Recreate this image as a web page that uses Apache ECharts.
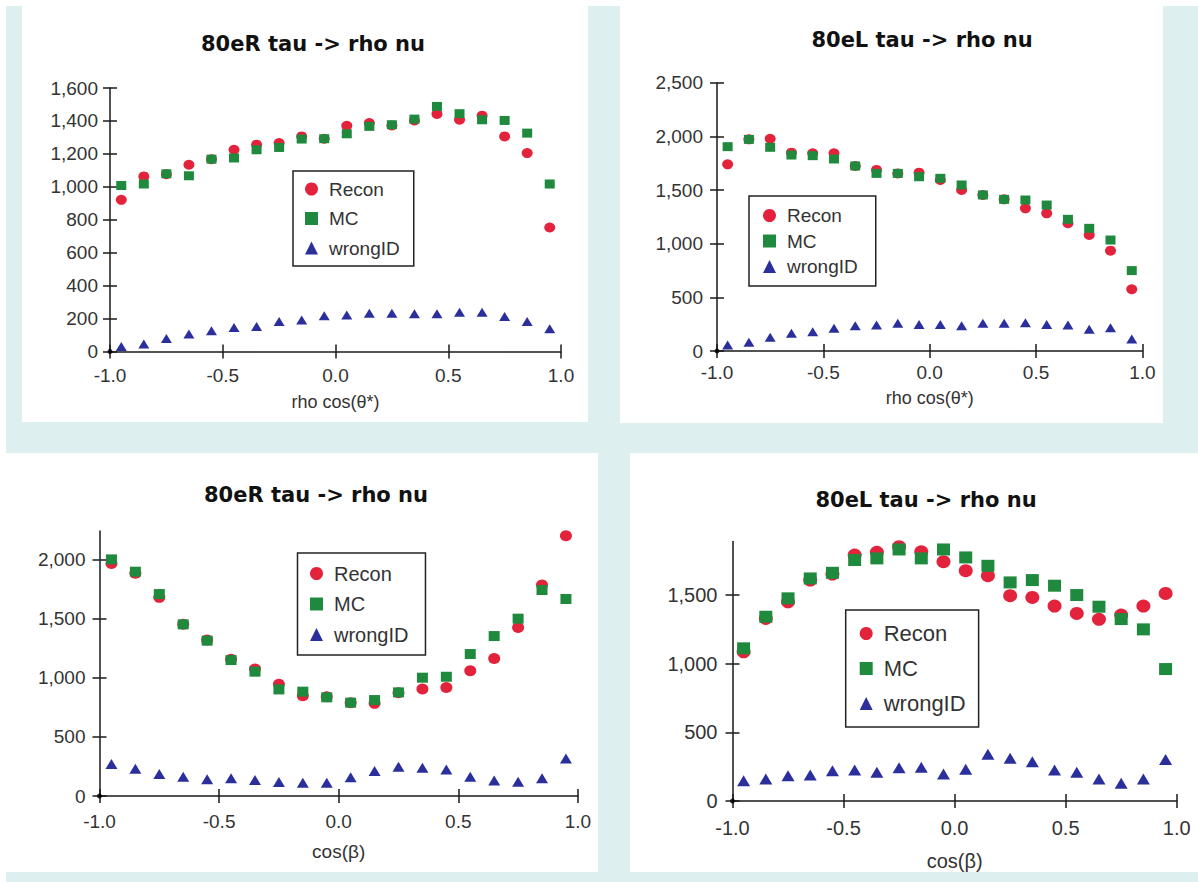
<!DOCTYPE html>
<html>
<head>
<meta charset="utf-8">
<script src="https://cdn.jsdelivr.net/npm/echarts@6/dist/echarts.min.js"></script>
<style>
html,body{margin:0;padding:0;background:#ffffff;}
#c{width:1198px;height:882px;}
</style>
</head>
<body>
<div id="c"></div>
<script>
// ---------- data ----------
const seriesNames = ['Recon', 'MC', 'wrongID'];
const titles = ['80eR tau -> rho nu', '80eL tau -> rho nu', '80eR tau -> rho nu', '80eL tau -> rho nu'];
const xNames = ['rho cos(\u03b8*)', 'rho cos(\u03b8*)', 'cos(\u03b2)', 'cos(\u03b2)'];
const xCenters = [-0.95,-0.85,-0.75,-0.65,-0.55,-0.45,-0.35,-0.25,-0.15,-0.05,0.05,0.15,0.25,0.35,0.45,0.55,0.65,0.75,0.85,0.95];
const xTicks = [-1.0, -0.5, 0.0, 0.5, 1.0];

const yTicks1 = [0,200,400,600,800,1000,1200,1400,1600];
const yTicks2 = [0,500,1000,1500,2000,2500];
const yTicks3 = [0,500,1000,1500,2000];
const yTicks4 = [0,500,1000,1500];

const p1Recon = [921,1063,1077,1134,1168,1225,1256,1266,1306,1292,1371,1387,1373,1403,1442,1407,1432,1306,1205,753];
const p1MC    = [1008,1017,1079,1067,1168,1175,1225,1239,1290,1292,1322,1367,1377,1411,1488,1444,1407,1403,1326,1017];
const p1Wrong = [30,45,79,107,126,146,152,182,192,217,221,233,233,229,229,239,239,213,182,138];

const p2Recon = [1739,1972,1978,1848,1842,1842,1724,1687,1655,1662,1593,1500,1454,1413,1329,1283,1190,1081,935,575];
const p2MC    = [1904,1972,1898,1826,1820,1789,1724,1655,1655,1624,1609,1547,1454,1413,1407,1360,1227,1143,1034,749];
const p2Wrong = [56,81,127,165,180,211,236,242,258,248,248,236,258,258,264,248,242,202,217,112];

const p3Recon = [1966,1882,1679,1451,1318,1155,1073,944,848,839,789,783,873,904,918,1059,1163,1425,1783,2200];
const p3MC    = [2000,1896,1707,1451,1313,1149,1051,901,882,834,789,811,876,1000,1008,1200,1352,1499,1741,1665];
const p3Wrong = [270,231,186,163,141,149,135,118,113,113,158,211,248,239,225,163,130,121,149,318];

const p4Recon = [1087,1330,1451,1609,1653,1791,1811,1852,1815,1743,1677,1641,1495,1483,1420,1366,1323,1354,1420,1512];
const p4MC    = [1112,1342,1476,1621,1662,1755,1767,1832,1767,1832,1774,1713,1592,1609,1568,1500,1415,1325,1250,961];
const p4Wrong = [148,160,184,189,221,226,209,243,245,197,231,340,311,286,226,209,160,129,160,303];

const yMaxes = [1600, 2500, 2240, 1890];
const yIntervals = [200, 500, 500, 500];

// ---------- layout / style ----------
const colors = { Recon: '#e3223c', MC: '#1f8a3e', wrongID: '#2b2f9c' };
const symbols = { Recon: 'circle', MC: 'rect', wrongID: 'triangle' };
const cyan = '#ddf0ef';
const FONT = '"Liberation Sans", Arial, sans-serif';

const layouts = [
  { grid:{left:110, top:88, width:451, height:263.5}, title:[308,28], tick:19, legendFont:19,
    legend:{left:293, top:171, padding:[8,14,8,12], gap:9.5, lh:20}, sym:[11,10], tri:[11,9],
    xMargin:14, yMargin:12, nameGap:41, nameFont:18 },
  { grid:{left:717, top:82.7, width:425.4, height:268.3}, title:[917,24], tick:19, legendFont:19,
    legend:{left:749, top:196, padding:[9.5,18,9.5,14], gap:5.5, lh:20}, sym:[11,10], tri:[11,9],
    xMargin:12, yMargin:14, nameGap:38, nameFont:18 },
  { grid:{left:99.5, top:531, width:478.4, height:265}, title:[311,479], tick:19, legendFont:20,
    legend:{left:297.5, top:553, padding:[10.5,17,10.5,12.5], gap:10.5, lh:20}, sym:[12,11], tri:[12,10],
    xMargin:16, yMargin:14, nameGap:46, nameFont:19 },
  { grid:{left:732.5, top:541.5, width:444.2, height:259.5}, title:[921,484], tick:20, legendFont:22,
    legend:{left:845.7, top:610, padding:[12.5,13,12.5,14], gap:13, lh:22}, sym:[14,13], tri:[13,11],
    xMargin:17, yMargin:15, nameGap:50, nameFont:20 }
];

const panelData = [
  { recon:p1Recon, mc:p1MC, wrong:p1Wrong, yTicks:yTicks1 },
  { recon:p2Recon, mc:p2MC, wrong:p2Wrong, yTicks:yTicks2 },
  { recon:p3Recon, mc:p3MC, wrong:p3Wrong, yTicks:yTicks3 },
  { recon:p4Recon, mc:p4MC, wrong:p4Wrong, yTicks:yTicks4 }
];

function pairs(ys) { return xCenters.map((x, i) => [x, ys[i]]); }
function fmtY(v) { return Number(v).toLocaleString('en-US'); }
function fmtX(v) { return Number(v).toFixed(1); }

const option = {
  animation: false,
  backgroundColor: '#ffffff',
  textStyle: { fontFamily: FONT },
  graphic: [
    { type:'rect', z:-10, silent:true, shape:{x:6, y:6, width:1192, height:447}, style:{fill:cyan} },
    { type:'rect', z:-9, silent:true, shape:{x:22, y:0, width:566, height:422}, style:{fill:'#ffffff'} },
    { type:'rect', z:-9, silent:true, shape:{x:620, y:0, width:543, height:423}, style:{fill:'#ffffff'} },
    { type:'rect', z:-10, silent:true, shape:{x:598, y:453, width:32, height:429}, style:{fill:cyan} },
    { type:'rect', z:-10, silent:true, shape:{x:6, y:872, width:1192, height:10}, style:{fill:cyan} }
  ],
  title: [], grid: [], xAxis: [], yAxis: [], legend: [], series: []
};

panelData.forEach((pd, i) => {
  const L = layouts[i];
  option.title.push({
    text: titles[i], left: L.title[0], top: L.title[1], textAlign: 'center',
    textStyle: { fontFamily: '"DejaVu Sans", Verdana, sans-serif', fontWeight: 'bold', fontSize: 21, color: '#111' }
  });
  option.grid.push(Object.assign({ containLabel: false }, L.grid));
  const axisLineStyle = { color: '#1a1a1a', width: 1.5 };
  option.xAxis.push({
    type: 'value', gridIndex: i, position: 'bottom', min: xTicks[0], max: xTicks[xTicks.length-1], interval: 0.5,
    name: xNames[i], nameLocation: 'middle', nameGap: L.nameGap,
    nameTextStyle: { fontFamily: FONT, fontSize: L.nameFont, color: '#333' },
    axisLine: { show: true, onZero: false, lineStyle: axisLineStyle },
    axisTick: { show: true, inside: false, length: 7, lineStyle: axisLineStyle },
    axisLabel: { show: true, margin: L.xMargin, fontSize: L.tick, color: '#333', fontFamily: FONT, formatter: fmtX },
    splitLine: { show: false }
  });
  option.xAxis.push({
    type: 'value', gridIndex: i, position: 'bottom', min: xTicks[0], max: xTicks[xTicks.length-1], interval: 0.5,
    axisLine: { show: false, onZero: false },
    axisTick: { show: true, inside: true, length: 7, lineStyle: axisLineStyle },
    axisLabel: { show: false }, splitLine: { show: false }
  });
  option.yAxis.push({
    type: 'value', gridIndex: i, position: 'left', min: 0, max: yMaxes[i], interval: yIntervals[i],
    axisLine: { show: true, onZero: false, lineStyle: axisLineStyle },
    axisTick: { show: true, inside: false, length: 7, lineStyle: axisLineStyle, customValues: pd.yTicks },
    axisLabel: { show: true, margin: L.yMargin, fontSize: L.tick, color: '#333', fontFamily: FONT,
                 formatter: fmtY, customValues: pd.yTicks },
    splitLine: { show: false }
  });
  option.yAxis.push({
    type: 'value', gridIndex: i, position: 'left', min: 0, max: yMaxes[i], interval: yIntervals[i],
    axisLine: { show: false, onZero: false },
    axisTick: { show: true, inside: true, length: 7, lineStyle: axisLineStyle, customValues: pd.yTicks },
    axisLabel: { show: false }, splitLine: { show: false }
  });
  const xi = i * 2, yi = i * 2;
  const sets = [['Recon', pd.recon, L.sym], ['MC', pd.mc, [L.sym[0]-1, L.sym[1]-1]], ['wrongID', pd.wrong, L.tri]];
  sets.forEach(([name, ys, size]) => {
    option.series.push({
      type: 'scatter', name: name, xAxisIndex: xi, yAxisIndex: yi,
      symbol: symbols[name], symbolSize: size,
      itemStyle: { color: colors[name], opacity: 1 },
      data: pairs(ys)
    });
  });
  option.series.push({
    type: 'scatter', name: 'origin', xAxisIndex: xi, yAxisIndex: yi, silent: true,
    symbol: 'circle', symbolSize: 5, itemStyle: { color: '#000' },
    data: [[xTicks[0], pd.yTicks[0]]]
  });
  option.legend.push({
    orient: 'vertical', left: L.legend.left, top: L.legend.top, padding: L.legend.padding,
    itemGap: L.legend.gap, itemWidth: 13, itemHeight: 13,
    backgroundColor: '#ffffff', borderColor: '#222', borderWidth: 1.5, borderRadius: 0,
    data: seriesNames, selectedMode: false,
    textStyle: { fontFamily: FONT, fontSize: L.legendFont, color: '#333', lineHeight: L.legend.lh, padding: [0,0,0,6] }
  });
});

const chart = echarts.init(document.getElementById('c'), null, { renderer: 'svg', width: 1198, height: 882 });
chart.setOption(option);
</script>
</body>
</html>
